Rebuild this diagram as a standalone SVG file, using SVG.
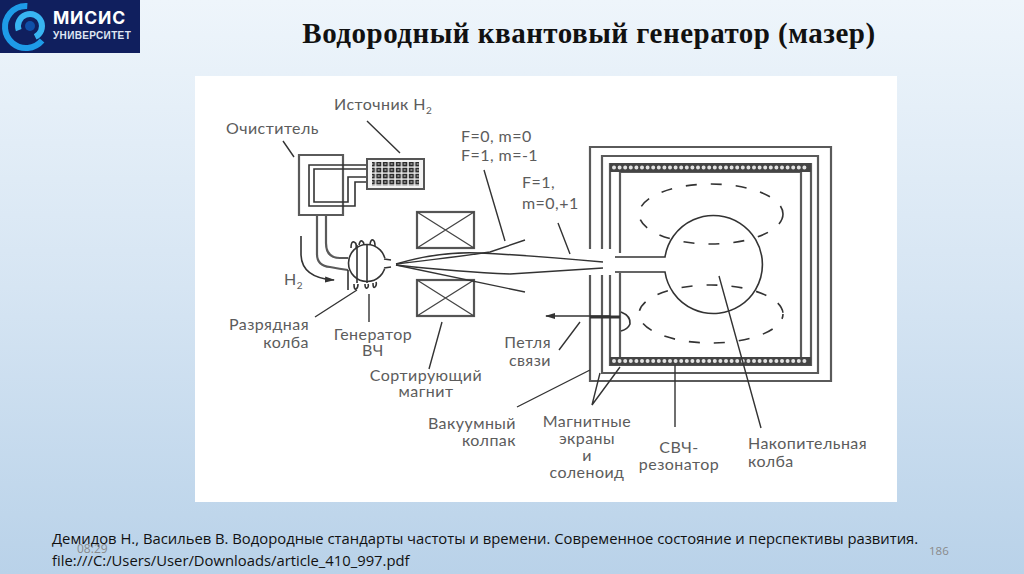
<svg xmlns="http://www.w3.org/2000/svg" width="1024" height="574" viewBox="0 0 1024 574">
<style>
.l{font-family:"Lato","Liberation Sans",sans-serif;font-size:16px;letter-spacing:.45px;fill:#5c5c5c}
.m{text-anchor:middle}
.e{text-anchor:end}
.s{font-size:10px}
.k{fill:none;stroke:#333;stroke-width:1.6}
.g{fill:none;stroke:#5a5a5a;stroke-width:2.2}
.d{fill:none;stroke:#333;stroke-width:1.4}
.w{fill:none;stroke:#444;stroke-width:1.3}
.dash{fill:none;stroke:#333;stroke-width:1.6;stroke-dasharray:11 14}
</style>
<defs>
<linearGradient id="bg" x1="0" y1="0" x2="0" y2="1"><stop offset="0" stop-color="#eef5fb"/><stop offset="0.5" stop-color="#d6e5f3"/><stop offset="1" stop-color="#b9d2e9"/></linearGradient>
<pattern id="grid" width="6.5" height="6" patternUnits="userSpaceOnUse" x="369" y="161"><rect width="6.5" height="6" fill="#e8e8e8"/><rect x="0.8" y="0.8" width="5" height="4.6" fill="#2c2c2c"/><rect x="2.4" y="2.2" width="1.8" height="1.6" fill="#aaa"/></pattern>
<marker id="ah" markerUnits="userSpaceOnUse" markerWidth="10" markerHeight="7" refX="9" refY="3.5" orient="auto"><path d="M0 0.500L10 3.500L0 6.500z" fill="#333"/></marker>
</defs>
<rect width="1024" height="574" fill="url(#bg)"/>
<g id="logo">
<rect width="140" height="53" fill="#101f5e"/>
<circle cx="26" cy="27" r="21" fill="none" stroke="#1e9be8" stroke-width="6" stroke-dasharray="85 47" transform="rotate(40 26 27)"/>
<circle cx="30" cy="26" r="12" fill="none" stroke="#38b4f2" stroke-width="6" stroke-dasharray="55 20" transform="rotate(160 30 26)"/>
<circle cx="30" cy="26" r="5" fill="#0f4fa8"/>
<text x="53" y="24" style="font-family:'Inter','Liberation Sans',sans-serif;font-size:17.500px;font-weight:700;fill:#fff;letter-spacing:.8px">МИСИС</text>
<text x="53" y="39" style="font-family:'Liberation Sans',sans-serif;font-size:10px;font-weight:700;fill:#dfe6f2;letter-spacing:.35px">УНИВЕРСИТЕТ</text>
</g>
<text id="title" x="589" y="43" text-anchor="middle" style="font-family:'Liberation Serif',serif;font-size:29px;letter-spacing:.5px;font-weight:700;fill:#111">Водородный квантовый генератор (мазер)</text>
<rect id="panel" x="195" y="76" width="702" height="426" fill="#fff"/>

<g id="purifier">
<path class="g" d="M299 155H343V215H299ZM317 215V254Q317 266 330 267Q340 269 348 270M326 215V243Q326 258 340 258H348"/>
<path class="k" stroke-width="1.8" d="M366 165H309V206H355V182H366M366 169H314V202H348V177H366"/>
</g>
<g id="source">
<rect x="367" y="159" width="57" height="30" fill="#f2f2f2" stroke="#555" stroke-width="2"/>
<rect x="372" y="162" width="47" height="24" fill="url(#grid)"/>
</g>
<g id="flask">
<circle cx="367" cy="263" r="18.500" fill="#fff" stroke="#333" stroke-width="1.600"/>
<path class="k" d="M357 245V283M367 245V283M348 270V290"/>
<path class="k" d="M351 248q0-7 3-6t2 6M359 245q1-5 3-4t2 4M370 244q1-5 3-4t2 6M354 284q0 6 2 5t2-5M365 284q0 5 2 4t1-4M373 283q0 6 2 4t1-5"/>
<rect x="384" y="258" width="8" height="11" fill="#fff"/>
<path class="k" d="M384 259L391 260M384 268L391 267"/>
</g>
<g id="magnet-top"><rect x="417" y="212" width="57" height="36" fill="#fff" stroke="#555" stroke-width="2.200"/><path class="w" d="M417 212L474 248M474 212L417 248"/></g>
<g id="magnet-bottom"><rect x="417" y="280" width="57" height="36" fill="#fff" stroke="#555" stroke-width="2.200"/><path class="w" d="M417 280L474 316M474 280L417 316"/></g>

<g id="maser">
<path class="g" d="M590 249V147H831V381H590V275"/>
<path class="g" d="M602 249V156H818V373H602V275"/>
<path class="g" d="M610 249V164H811V365H610V275"/>
<path class="g" d="M620 253V172H801V358H620V273"/>
<rect x="610" y="163" width="201" height="9" fill="#444"/>
<rect x="610" y="357" width="201" height="8.500" fill="#444"/>
<path d="M614 167.500H808M614 361H808" fill="none" stroke="#e2e2e2" stroke-width="4" stroke-linecap="round" stroke-dasharray="0 5.600"/>
<path fill="#fff" stroke="#333" stroke-width="1.600" d="M615 257H665A49 49 0 1 1 665 272H615"/>
<ellipse class="dash" cx="711" cy="214" rx="72" ry="30"/>
<ellipse class="dash" cx="711" cy="314" rx="72" ry="29" stroke-dashoffset="6"/>
<path fill="none" stroke="#333" stroke-width="3" d="M590 317H620"/>
<path class="k" d="M621 312Q631 316 630 324Q628 329 621 331"/>
</g>

<g id="connectors">
<path class="d" d="M396 264C430 254 460 252 480 253C500 254 560 258 603 262"/>
<path class="d" d="M396 264C430 260 470 255 490 252L525 240"/>
<path class="d" d="M396 265Q460 272 510 274L603 268"/>
<path class="d" d="M396 265L525 292"/>
<path class="k" d="M610 316H546" marker-end="url(#ah)"/>
<path class="k" d="M301 236V255Q302 278 334 280" marker-end="url(#ah)"/>
<path class="d" d="M367 121L400 153M283 141L294 157M484 170L505 241M558 223L570 254M357 290L315 317M369 294V322M442 322L429 369M580 322L559 350"/>
<path class="d" d="M590 370L517 407M600 373L592 405L620 367"/>
<path class="d" d="M675 365V427M719 276L761 428"/>
</g>

<g id="labels">
<text class="l" x="334" y="110">Источник Н<tspan class="s" dy="4">2</tspan></text>
<text class="l" x="226" y="134">Очиститель</text>
<text class="l" x="461" y="142">F=0, m=0</text>
<text class="l" x="461" y="161">F=1, m=-1</text>
<text class="l" x="522" y="188">F=1,</text>
<text class="l" x="522" y="209">m=0,+1</text>
<text class="l" x="284" y="285">Н<tspan class="s" dy="4">2</tspan></text>
<text class="l e" x="309" y="330">Разрядная</text>
<text class="l e" x="309" y="348">колба</text>
<text class="l m" x="373" y="340">Генератор</text>
<text class="l m" x="373" y="356">ВЧ</text>
<text class="l m" x="426" y="381">Сортирующий</text>
<text class="l m" x="426" y="397">магнит</text>
<text class="l e" x="516" y="429">Вакуумный</text>
<text class="l e" x="516" y="446">колпак</text>
<text class="l e" x="551" y="348">Петля</text>
<text class="l e" x="551" y="366">связи</text>
<text class="l m" x="587" y="427">Магнитные</text>
<text class="l m" x="587" y="444">экраны</text>
<text class="l m" x="587" y="461">и</text>
<text class="l m" x="587" y="478">соленоид</text>
<text class="l m" x="679" y="453">СВЧ-</text>
<text class="l m" x="679" y="470">резонатор</text>
<text class="l" x="748" y="449">Накопительная</text>
<text class="l" x="748" y="467">колба</text>
</g>
<g id="footer" style="font-family:'Open Sans','Liberation Sans',sans-serif;fill:#111;font-size:14.800px">
<text x="52" y="544">Демидов Н., Васильев В. Водородные стандарты частоты и времени. Современное состояние и перспективы развития.</text>
<text x="52" y="566">file:///C:/Users/User/Downloads/article_410_997.pdf</text>
<text x="77" y="553" style="font-size:12px;fill:#8a8a8a">08:29</text>
<text x="929" y="555" style="font-size:11.500px;fill:#8a8a8a">186</text>
</g>
</svg>
